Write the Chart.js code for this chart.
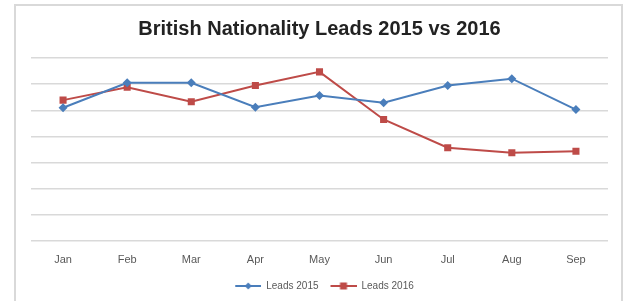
<!DOCTYPE html>
<html>
<head>
  <title>British Nationality Leads</title>
  <script src="https://cdn.jsdelivr.net/npm/chart.js"></script>
  <style>
    body {
      margin: 0;
      padding: 0;
      background: #fff;
    }

    #frame {
      position: absolute;
      left: 14px;
      top: 4px;
      width: 605px;
      height: 320px;
      border: 2px solid #d9d9d9;
    }

    #chart-container {
      position: absolute;
      left: 0;
      top: 0;
      width: 625px;
      height: 301px;
    }
  </style>
</head>
<body>

  <div id="frame"></div>
  <div id="chart-container">
    <canvas id="myChart" width="625" height="301"></canvas>
  </div>

  <script>
    const months = ['Jan', 'Feb', 'Mar', 'Apr', 'May', 'Jun', 'Jul', 'Aug', 'Sep'];
    const leads2015 = [5.10, 6.05, 6.05, 5.12, 5.57, 5.29, 5.95, 6.21, 5.03];
    const leads2016 = [5.39, 5.88, 5.33, 5.95, 6.47, 4.65, 3.57, 3.38, 3.44];

    const blue = '#4a7ebb';
    const red = '#be4b48';

    // legend swatch: blank margin, then a line with the marker in the middle
    function swatch(color, shape) {
      const c = document.createElement('canvas');
      c.width = 36;
      c.height = 10;
      const g = c.getContext('2d');
      g.strokeStyle = color;
      g.lineWidth = 2;
      g.beginPath();
      g.moveTo(10, 5);
      g.lineTo(36, 5);
      g.stroke();
      g.fillStyle = color;
      if (shape === 'diamond') {
        g.beginPath();
        g.moveTo(23, 1.5);
        g.lineTo(26.5, 5);
        g.lineTo(23, 8.5);
        g.lineTo(19.5, 5);
        g.closePath();
        g.fill();
      } else {
        g.fillRect(19.5, 1.5, 7, 7);
      }
      return c;
    }

    const ctx = document.getElementById('myChart').getContext('2d');
    const chart = new Chart(ctx, {
      type: 'line',
      data: {
        labels: months,
        datasets: [{
          label: 'Leads 2015',
          data: leads2015,
          borderColor: blue,
          backgroundColor: blue,
          borderWidth: 2,
          pointStyle: 'rectRot',
          pointRadius: 4.5,
          pointBorderWidth: 0,
          tension: 0
        }, {
          label: 'Leads 2016',
          data: leads2016,
          borderColor: red,
          backgroundColor: red,
          borderWidth: 2,
          pointStyle: 'rect',
          pointRadius: 5,
          pointBorderWidth: 0,
          tension: 0
        }]
      },
      options: {
        responsive: false,
        animation: false,
        layout: {
          padding: { left: 31, right: 17, top: 6, bottom: 0 }
        },
        plugins: {
          title: {
            display: true,
            text: 'British Nationality Leads 2015 vs 2016',
            color: '#222',
            font: { family: 'Liberation Sans', size: 20, weight: 'bold' },
            padding: { top: 11, bottom: 17 }
          },
          legend: {
            position: 'bottom',
            labels: {
              usePointStyle: true,
              pointStyleWidth: 36,
              color: '#595959',
              font: { family: 'Liberation Sans', size: 10 },
              padding: 2,
              generateLabels: function (chart) {
                return [
                  { text: 'Leads 2015', pointStyle: swatch(blue, 'diamond'), fontColor: '#595959', datasetIndex: 0, lineWidth: 0 },
                  { text: 'Leads 2016', pointStyle: swatch(red, 'square'), fontColor: '#595959', datasetIndex: 1, lineWidth: 0 }
                ];
              }
            }
          },
          tooltip: { enabled: false }
        },
        scales: {
          x: {
            offset: true,
            grid: { display: false, drawTicks: false },
            border: { display: false },
            ticks: {
              color: '#595959',
              font: { family: 'Liberation Sans', size: 11 },
              padding: 12.3
            }
          },
          y: {
            min: 0,
            max: 7,
            ticks: { display: false, stepSize: 1 },
            border: { display: false },
            grid: { color: '#d9d9d9', lineWidth: 1.5, drawTicks: false }
          }
        }
      }
    });
  </script>

</body>
</html>
